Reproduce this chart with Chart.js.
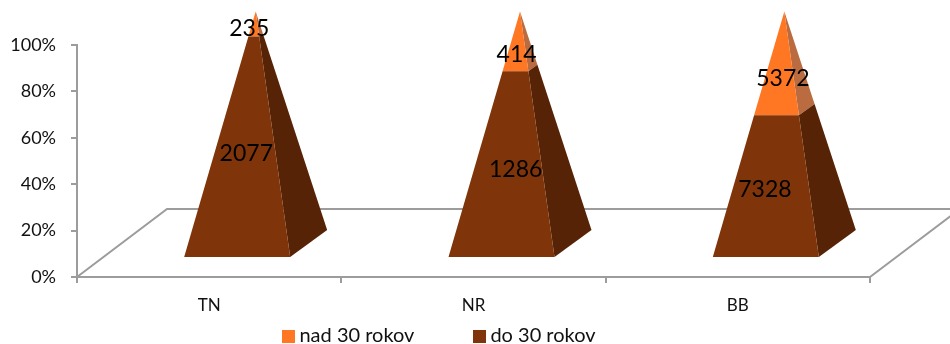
<!DOCTYPE html>
<html>
<head>
<meta charset="utf-8">
<script src="https://cdn.jsdelivr.net/npm/chart.js@4"></script>
<style>
  html, body { margin: 0; padding: 0; background: #fff; }
  canvas { display: block; }
</style>
</head>
<body>
<canvas id="chart" width="950" height="344"></canvas>
<script>
// data
const regions = ["TN", "NR", "BB"];
const do30Rokov = [2077, 1286, 7328];
const nad30Rokov = [235, 414, 5372];
const percentTicks = [0, 20, 40, 60, 80, 100];

const totals = regions.map((_, i) => do30Rokov[i] + nad30Rokov[i]);
const toShare = (arr) => arr.map((v, i) => (v / totals[i]) * 100);

// 3d look
const fontName = "Lato, 'Open Sans', sans-serif";
const axisColor = "#9c9c9c";
const depth = { x: 90, y: 68 };      // floor offset, front edge -> back edge
const baseShift = { x: 46.5, y: 33.5 }; // pyramid base centre, seen from the axis
const corner = {
  frontLeft: { x: -71.5, y: 13.5 },
  frontRight: { x: 34.5, y: 13.5 },
  backRight: { x: 71.5, y: -13.5 },
};
// labels were dragged by hand in the original, so nudge them a bit
const labelNudge = [
  [{ x: 9.5, y: 1 }, { x: 12.5, y: -8 }],
  [{ x: 14.5, y: 0 }, { x: 15.5, y: 1 }],
  [{ x: -0.5, y: 0 }, { x: 17.5, y: 5 }],
];

function cornerAt(chart, i, pct, c) {
  const xs = chart.scales.x, ys = chart.scales.y;
  const shrink = 1 - pct / 100;
  return {
    x: xs.getPixelForValue(i) + baseShift.x + c.x * shrink,
    y: ys.getPixelForValue(pct) - baseShift.y + c.y * shrink,
  };
}

function fillPoly(ctx, pts, color) {
  ctx.fillStyle = color;
  ctx.beginPath();
  pts.forEach((p, n) => (n ? ctx.lineTo(p.x, p.y) : ctx.moveTo(p.x, p.y)));
  ctx.closePath();
  ctx.fill();
}

const pyramidPlugin = {
  id: "pyramid",
  // floor of the 3d box, behind everything
  beforeDatasetsDraw(chart) {
    const { ctx, chartArea: a } = chart;
    ctx.save();
    ctx.strokeStyle = axisColor;
    ctx.lineWidth = 2;
    ctx.beginPath();
    ctx.moveTo(a.left, a.bottom);
    ctx.lineTo(a.left + depth.x, a.bottom - depth.y);
    ctx.lineTo(a.right + depth.x, a.bottom - depth.y);
    ctx.lineTo(a.right, a.bottom);
    ctx.stroke();
    ctx.restore();
  },
  // replace the flat bars with pyramid slices
  beforeDatasetDraw(chart, args) {
    const { ctx } = chart;
    const ds = chart.data.datasets[args.index];
    const start = args.index === 0 ? () => 0 : (i) => chart.data.datasets[0].data[i];
    regions.forEach((_, i) => {
      const from = start(i), to = from + ds.data[i];
      const fl0 = cornerAt(chart, i, from, corner.frontLeft);
      const fr0 = cornerAt(chart, i, from, corner.frontRight);
      const br0 = cornerAt(chart, i, from, corner.backRight);
      const fl1 = cornerAt(chart, i, to, corner.frontLeft);
      const fr1 = cornerAt(chart, i, to, corner.frontRight);
      const br1 = cornerAt(chart, i, to, corner.backRight);
      fillPoly(ctx, [fr0, br0, br1, fr1], ds.sideColor);
      fillPoly(ctx, [fl0, fr0, fr1, fl1], ds.backgroundColor);
    });
    return false;
  },
  // value labels
  afterDatasetsDraw(chart) {
    const { ctx } = chart;
    const ys = chart.scales.y, xs = chart.scales.x;
    ctx.save();
    ctx.fillStyle = "#000";
    ctx.font = "23px " + fontName;
    ctx.textAlign = "center";
    ctx.textBaseline = "middle";
    chart.data.datasets.forEach((ds, d) => {
      regions.forEach((_, i) => {
        const from = d === 0 ? 0 : chart.data.datasets[0].data[i];
        const mid = from + ds.data[i] / 2;
        const x = xs.getPixelForValue(i) + baseShift.x + corner.frontLeft.x / 4 + labelNudge[i][d].x - 1;
        const y = ys.getPixelForValue(mid) - baseShift.y + corner.frontLeft.y + labelNudge[i][d].y;
        ctx.fillText(ds.counts[i], x, y);
      });
    });
    ctx.restore();
  },
};

// swatch as an image, so it can sit closer to its text than a normal legend box
function swatch(color) {
  const c = document.createElement("canvas");
  c.width = 13;
  c.height = 13;
  const g = c.getContext("2d");
  g.fillStyle = color;
  g.fillRect(0, 0, 13, 13);
  return c;
}

// native legend, but with its wide gap and its own place under the chart
const legendPlace = { centerX: 441.5, textY: 336, height: 26 };
const legendPlugin = {
  id: "legendPlace",
  beforeInit(chart) {
    const legend = chart.legend;
    const fit = legend.fit;
    legend.fit = function () {
      fit.call(this);
      this.height = legendPlace.height;
    };
  },
  beforeDraw(chart) {
    const legend = chart.legend;
    const pad = legend.options.labels.padding;
    legend.top = legendPlace.textY - 10 - pad;
    const shift = legendPlace.centerX - chart.width / 2;
    legend.left = shift;
    legend.right = chart.width + shift;
  },
};

new Chart(document.getElementById("chart"), {
  type: "bar",
  data: {
    labels: regions,
    datasets: [
      { label: "do 30 rokov", data: toShare(do30Rokov), counts: do30Rokov, backgroundColor: "#7f3409", sideColor: "#572306" },
      { label: "nad 30 rokov", data: toShare(nad30Rokov), counts: nad30Rokov, backgroundColor: "#ff7722", sideColor: "#ba6b3f" },
    ],
  },
  plugins: [pyramidPlugin, legendPlugin],
  options: {
    responsive: false,
    animation: false,
    layout: { padding: { top: 45, right: 80, left: 0, bottom: 0 } },
    plugins: {
      tooltip: { enabled: false },
      legend: {
        position: "bottom",
        reverse: true,
        labels: {
          usePointStyle: true,
          boxWidth: 2,
          boxHeight: 13,
          padding: 64,
          color: "#111",
          font: { family: fontName, size: 20 },
          generateLabels(chart) {
            return Chart.defaults.plugins.legend.labels.generateLabels(chart)
              .map((item) => ({ ...item, pointStyle: swatch(item.fillStyle) }));
          },
        },
      },
    },
    scales: {
      x: {
        stacked: true,
        grid: { drawOnChartArea: false, color: axisColor, lineWidth: 2, tickLength: 6 },
        border: { color: axisColor, width: 2 },
        ticks: { color: "#111", padding: 12, maxRotation: 0, font: { family: fontName, size: 17 } },
        afterFit(s) { s.height = 41; },
      },
      y: {
        stacked: true,
        min: 0,
        max: 100,
        afterBuildTicks(s) { s.ticks = percentTicks.map((v) => ({ value: v })); },
        grid: { drawOnChartArea: false, color: axisColor, lineWidth: 2, tickLength: 6 },
        border: { color: axisColor, width: 2 },
        ticks: { color: "#111", padding: 15, font: { family: fontName, size: 18 }, callback: (v) => v + "%" },
        afterFit(s) { s.width = 77; },
      },
    },
  },
});
</script>
</body>
</html>
